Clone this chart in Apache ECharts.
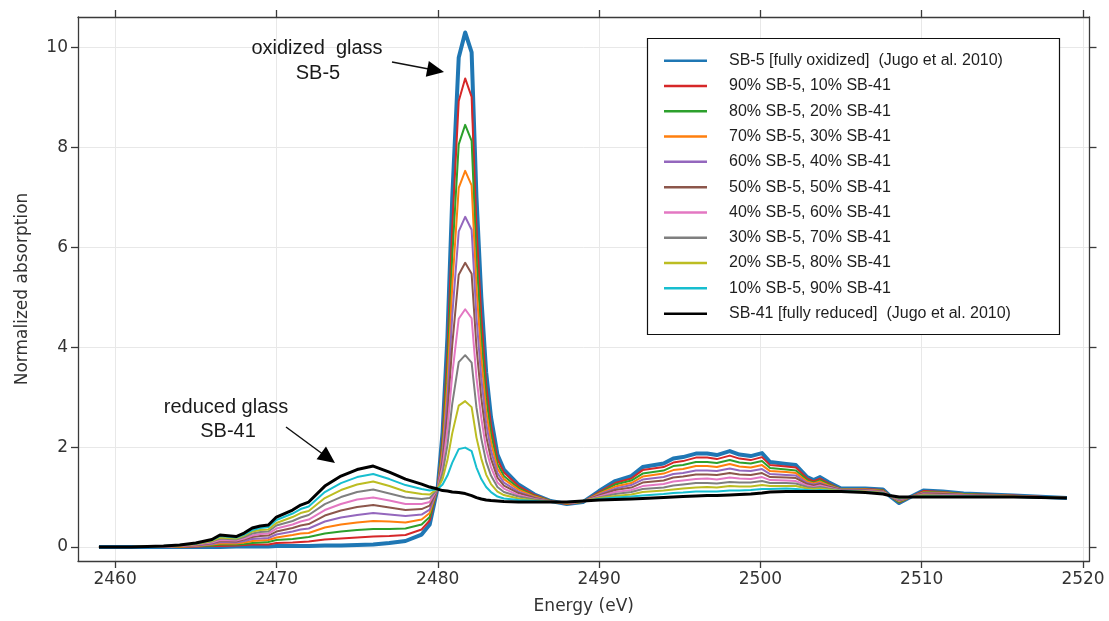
<!DOCTYPE html>
<html>
<head>
<meta charset="utf-8">
<script src="https://cdn.jsdelivr.net/npm/echarts@6/dist/echarts.min.js"></script>
<style>
  html, body { margin: 0; padding: 0; background: #ffffff; }
  #chart { width: 1109px; height: 621px; }
</style>
</head>
<body>
<div id="chart"></div>
<script>
// Photon energy (eV) shared by all spectra
const energy = [2459, 2461, 2463, 2464, 2465, 2466, 2466.5, 2467.5, 2468, 2468.5, 2469, 2469.5, 2470, 2471, 2471.5, 2472, 2473, 2474, 2475, 2476, 2477, 2478, 2479, 2479.5,
  2480, 2480.3, 2480.6, 2480.9, 2481.3, 2481.7, 2482.1, 2482.4, 2482.7, 2483, 2483.3, 2483.7, 2484.1,
  2485, 2486, 2487, 2488, 2489, 2490, 2491, 2492, 2492.7, 2494, 2494.6, 2495.2, 2496, 2496.7, 2497.3, 2498.1, 2498.7, 2499.4, 2500.1, 2500.6, 2501.6, 2502.2, 2502.9, 2503.3, 2503.7, 2504.2, 2505, 2506.5, 2507.6, 2508, 2508.6, 2509.3, 2510.1, 2511.3, 2512.6, 2515.7, 2519];

// Normalized absorption of each glass / mixture
const sb5 = [0, 0, 0, 0, 0, 0, 0, 0.01, 0.01, 0.01, 0.01, 0.01, 0.02, 0.02, 0.02, 0.02, 0.03, 0.03, 0.04, 0.05, 0.08, 0.12, 0.25, 0.45,
  1.2, 2.3, 4.2, 7.0, 9.8, 10.3, 9.9, 7.0, 5.0, 3.5, 2.6, 1.85, 1.55,
  1.25, 1.05, 0.92, 0.86, 0.9, 1.12, 1.32, 1.42, 1.6, 1.67, 1.77, 1.8, 1.87, 1.87, 1.84, 1.92, 1.85, 1.82, 1.88, 1.7, 1.66, 1.64, 1.4, 1.34, 1.4, 1.3, 1.17, 1.17, 1.15, 1.03, 0.88, 1.0, 1.13, 1.11, 1.07, 1.03, 0.98];

const mix90 = [0, 0, 0, 0, 0.01, 0.02, 0.02, 0.03, 0.04, 0.05, 0.05, 0.05, 0.08, 0.09, 0.1, 0.11, 0.15, 0.17, 0.19, 0.21, 0.22, 0.24, 0.35, 0.53,
  1.2, 2.18, 3.89, 6.41, 8.93, 9.38, 9.01, 6.4, 4.6, 3.24, 2.43, 1.76, 1.49,
  1.22, 1.04, 0.92, 0.86, 0.9, 1.1, 1.28, 1.37, 1.54, 1.6, 1.69, 1.72, 1.79, 1.79, 1.76, 1.83, 1.77, 1.74, 1.8, 1.64, 1.61, 1.59, 1.37, 1.32, 1.37, 1.28, 1.16, 1.16, 1.14, 1.03, 0.89, 1.0, 1.12, 1.1, 1.06, 1.03, 0.98];

const mix80 = [0, 0, 0, 0.01, 0.02, 0.03, 0.05, 0.05, 0.06, 0.08, 0.09, 0.1, 0.14, 0.16, 0.18, 0.2, 0.27, 0.31, 0.34, 0.36, 0.36, 0.37, 0.45, 0.6,
  1.19, 2.07, 3.58, 5.82, 8.06, 8.45, 8.13, 5.8, 4.19, 2.99, 2.27, 1.66, 1.42,
  1.18, 1.02, 0.92, 0.87, 0.9, 1.08, 1.25, 1.33, 1.47, 1.53, 1.62, 1.64, 1.7, 1.7, 1.68, 1.74, 1.69, 1.67, 1.72, 1.58, 1.55, 1.53, 1.34, 1.29, 1.34, 1.26, 1.16, 1.15, 1.13, 1.03, 0.9, 1.0, 1.1, 1.09, 1.06, 1.02, 0.98];

const mix70 = [0, 0, 0.01, 0.01, 0.02, 0.05, 0.07, 0.07, 0.09, 0.12, 0.13, 0.14, 0.19, 0.24, 0.27, 0.28, 0.39, 0.45, 0.49, 0.52, 0.51, 0.49, 0.55, 0.68,
  1.19, 1.95, 3.28, 5.23, 7.19, 7.53, 7.24, 5.2, 3.79, 2.73, 2.1, 1.57, 1.36,
  1.15, 1.01, 0.91, 0.87, 0.91, 1.07, 1.21, 1.28, 1.41, 1.47, 1.54, 1.56, 1.62, 1.62, 1.6, 1.66, 1.61, 1.59, 1.64, 1.52, 1.5, 1.48, 1.31, 1.27, 1.31, 1.24, 1.15, 1.15, 1.12, 1.03, 0.92, 1.0, 1.09, 1.08, 1.05, 1.02, 0.98];

const mix60 = [0, 0, 0.01, 0.02, 0.03, 0.06, 0.1, 0.09, 0.12, 0.16, 0.17, 0.18, 0.25, 0.31, 0.35, 0.37, 0.51, 0.59, 0.64, 0.68, 0.65, 0.62, 0.65, 0.75,
  1.18, 1.83, 2.97, 4.64, 6.32, 6.61, 6.35, 4.6, 3.38, 2.48, 1.93, 1.48, 1.29,
  1.11, 0.99, 0.91, 0.88, 0.91, 1.05, 1.17, 1.24, 1.35, 1.4, 1.46, 1.48, 1.53, 1.53, 1.52, 1.57, 1.53, 1.52, 1.56, 1.46, 1.44, 1.43, 1.28, 1.25, 1.28, 1.22, 1.15, 1.14, 1.11, 1.03, 0.93, 1.0, 1.08, 1.07, 1.04, 1.02, 0.98];

const mix50 = [0, 0, 0.01, 0.02, 0.04, 0.08, 0.12, 0.11, 0.15, 0.2, 0.22, 0.23, 0.31, 0.38, 0.43, 0.46, 0.63, 0.73, 0.8, 0.84, 0.79, 0.74, 0.76, 0.83,
  1.18, 1.72, 2.66, 4.05, 5.45, 5.69, 5.47, 4.0, 2.98, 2.22, 1.77, 1.39, 1.23,
  1.08, 0.98, 0.91, 0.88, 0.91, 1.03, 1.14, 1.19, 1.29, 1.33, 1.39, 1.41, 1.45, 1.45, 1.44, 1.48, 1.45, 1.44, 1.48, 1.4, 1.39, 1.38, 1.26, 1.23, 1.26, 1.21, 1.14, 1.13, 1.11, 1.03, 0.94, 1.0, 1.07, 1.06, 1.04, 1.02, 0.98];

const mix40 = [0, 0, 0.01, 0.02, 0.05, 0.09, 0.14, 0.13, 0.17, 0.23, 0.26, 0.27, 0.37, 0.45, 0.51, 0.55, 0.74, 0.86, 0.95, 0.99, 0.93, 0.86, 0.86, 0.9,
  1.18, 1.6, 2.35, 3.46, 4.57, 4.76, 4.58, 3.39, 2.58, 1.96, 1.6, 1.29, 1.17,
  1.04, 0.96, 0.91, 0.88, 0.91, 1.01, 1.1, 1.14, 1.22, 1.26, 1.31, 1.33, 1.36, 1.37, 1.35, 1.39, 1.37, 1.36, 1.4, 1.34, 1.33, 1.32, 1.23, 1.2, 1.23, 1.19, 1.13, 1.12, 1.1, 1.03, 0.95, 1.0, 1.05, 1.04, 1.03, 1.01, 0.98];

const mix30 = [0, 0, 0.01, 0.03, 0.06, 0.11, 0.17, 0.15, 0.2, 0.27, 0.3, 0.31, 0.43, 0.52, 0.59, 0.64, 0.86, 1.0, 1.1, 1.15, 1.07, 0.99, 0.96, 0.98,
  1.17, 1.48, 2.04, 2.87, 3.7, 3.84, 3.69, 2.79, 2.17, 1.71, 1.43, 1.2, 1.1,
  1.01, 0.95, 0.91, 0.89, 0.91, 0.99, 1.06, 1.1, 1.16, 1.19, 1.23, 1.25, 1.28, 1.28, 1.27, 1.3, 1.29, 1.29, 1.32, 1.28, 1.28, 1.27, 1.2, 1.18, 1.2, 1.17, 1.13, 1.11, 1.09, 1.03, 0.96, 1.0, 1.04, 1.03, 1.02, 1.01, 0.98];

const mix20 = [0, 0, 0.02, 0.03, 0.06, 0.12, 0.19, 0.17, 0.23, 0.31, 0.34, 0.35, 0.48, 0.6, 0.68, 0.72, 0.98, 1.14, 1.25, 1.31, 1.22, 1.11, 1.06, 1.05,
  1.17, 1.36, 1.74, 2.28, 2.83, 2.92, 2.8, 2.19, 1.77, 1.45, 1.26, 1.11, 1.04,
  0.97, 0.93, 0.9, 0.89, 0.92, 0.98, 1.02, 1.05, 1.1, 1.13, 1.15, 1.17, 1.19, 1.2, 1.19, 1.22, 1.21, 1.21, 1.24, 1.22, 1.22, 1.22, 1.17, 1.16, 1.17, 1.15, 1.12, 1.11, 1.08, 1.03, 0.98, 1.0, 1.03, 1.02, 1.01, 1.01, 0.98];

const mix10 = [0, 0, 0.02, 0.04, 0.07, 0.14, 0.22, 0.19, 0.25, 0.34, 0.38, 0.4, 0.54, 0.67, 0.76, 0.81, 1.1, 1.28, 1.4, 1.46, 1.36, 1.24, 1.16, 1.13,
  1.16, 1.25, 1.43, 1.69, 1.96, 1.99, 1.92, 1.59, 1.36, 1.2, 1.1, 1.01, 0.97,
  0.94, 0.92, 0.9, 0.9, 0.92, 0.96, 0.99, 1.01, 1.03, 1.06, 1.08, 1.09, 1.11, 1.11, 1.11, 1.13, 1.13, 1.14, 1.16, 1.16, 1.17, 1.16, 1.14, 1.13, 1.14, 1.13, 1.12, 1.1, 1.07, 1.03, 0.99, 1.0, 1.01, 1.01, 1.01, 1.0, 0.98];

const sb41 = [0, 0, 0.02, 0.04, 0.08, 0.15, 0.24, 0.21, 0.28, 0.38, 0.42, 0.44, 0.6, 0.74, 0.84, 0.9, 1.22, 1.42, 1.55, 1.62, 1.5, 1.36, 1.26, 1.2,
  1.16, 1.13, 1.12, 1.1, 1.09, 1.07, 1.03, 0.99, 0.96, 0.94, 0.93, 0.92, 0.91,
  0.9, 0.9, 0.9, 0.9, 0.92, 0.94, 0.95, 0.96, 0.97, 0.99, 1.0, 1.01, 1.02, 1.03, 1.03, 1.04, 1.05, 1.06, 1.08, 1.1, 1.11, 1.11, 1.11, 1.11, 1.11, 1.11, 1.11, 1.09, 1.06, 1.03, 1.0, 1.0, 1.0, 1.0, 1.0, 1.0, 0.98];

const seriesNames = [
  'SB-5 [fully oxidized]  (Jugo et al. 2010)',
  '90% SB-5, 10% SB-41',
  '80% SB-5, 20% SB-41',
  '70% SB-5, 30% SB-41',
  '60% SB-5, 40% SB-41',
  '50% SB-5, 50% SB-41',
  '40% SB-5, 60% SB-41',
  '30% SB-5, 70% SB-41',
  '20% SB-5, 80% SB-41',
  '10% SB-5, 90% SB-41',
  'SB-41 [fully reduced]  (Jugo et al. 2010)'
];
const seriesValues = [sb5, mix90, mix80, mix70, mix60, mix50, mix40, mix30, mix20, mix10, sb41];
const seriesColors = ['#1f77b4', '#d62728', '#2ca02c', '#ff7f0e', '#9467bd', '#8c564b',
  '#e377c2', '#7f7f7f', '#bcbd22', '#17becf', '#000000'];
const seriesWidths = [4, 2, 2, 2, 2, 2, 2, 2, 2, 2, 3];

const xTicks = [2460, 2470, 2480, 2490, 2500, 2510, 2520];
const yTicks = [0, 2, 4, 6, 8, 10];

const axisColor = '#3a3a3a';
const tickFont = 'DejaVu Sans';

const chart = echarts.init(document.getElementById('chart'), null, { renderer: 'canvas' });

const series = seriesValues.map((vals, i) => ({
  name: seriesNames[i],
  type: 'line',
  data: energy.map((e, j) => [e, vals[j]]),
  symbol: 'none',
  showSymbol: false,
  smooth: false,
  lineStyle: { color: seriesColors[i], width: seriesWidths[i], join: 'round' },
  itemStyle: { color: seriesColors[i] },
  emphasis: { disabled: true },
  animation: false,
  z: 2
}));

function frameAxis(extra) {
  return Object.assign({
    type: 'value',
    axisLine: { show: true, onZero: false, lineStyle: { color: axisColor, width: 1.3 } },
    axisTick: { show: true, length: 7, lineStyle: { color: axisColor, width: 1.3 } },
    splitLine: { show: false },
    axisLabel: { show: false }
  }, extra);
}

const plainNumber = v => String(v);

const option = {
  backgroundColor: '#ffffff',
  animation: false,
  grid: { left: 78, right: 19.5, top: 17, bottom: 60, containLabel: false },
  xAxis: [
    frameAxis({
      position: 'bottom',
      min: 2457.7, max: 2520.4,
      name: 'Energy (eV)',
      nameLocation: 'middle',
      nameGap: 37,
      nameTextStyle: { fontFamily: tickFont, fontSize: 17, color: '#333', verticalAlign: 'top' },
      axisTick: { show: true, length: 7, customValues: xTicks, lineStyle: { color: axisColor, width: 1.3 } },
      axisLabel: { show: true, customValues: xTicks, formatter: plainNumber, margin: 10, fontFamily: tickFont, fontSize: 17, color: '#333' },
      splitLine: { show: true, lineStyle: { color: '#e8e8e8', width: 1 } }
    }),
    frameAxis({
      position: 'top',
      min: 2457.7, max: 2520.4,
      axisTick: { show: true, length: 7, customValues: xTicks, lineStyle: { color: axisColor, width: 1.3 } }
    })
  ],
  yAxis: [
    frameAxis({
      position: 'left',
      min: -0.28, max: 10.61,
      name: 'Normalized absorption',
      nameLocation: 'middle',
      nameRotate: 90,
      nameGap: 47,
      nameTextStyle: { fontFamily: tickFont, fontSize: 17, color: '#333' },
      axisTick: { show: true, length: 7, customValues: yTicks, lineStyle: { color: axisColor, width: 1.3 } },
      axisLabel: { show: true, customValues: yTicks, formatter: plainNumber, margin: 10, fontFamily: tickFont, fontSize: 17, color: '#333' },
      splitLine: { show: true, lineStyle: { color: '#e8e8e8', width: 1 } }
    }),
    frameAxis({
      position: 'right',
      min: -0.28, max: 10.61,
      axisTick: { show: true, length: 7, customValues: yTicks, lineStyle: { color: axisColor, width: 1.3 } }
    })
  ],
  legend: {
    orient: 'vertical',
    left: 664,
    top: 48,
    padding: 0,
    itemGap: 0,
    itemWidth: 43,
    itemHeight: 2.5,
    icon: 'rect',
    selectedMode: false,
    data: seriesNames,
    textStyle: { fontFamily: 'Liberation Sans', fontSize: 16, lineHeight: 25.3, color: '#1e1e1e', padding: [0, 0, 0, 17] },
    z: 6
  },
  graphic: [
    // legend frame
    {
      type: 'rect', z: 5, silent: true,
      shape: { x: 647.5, y: 38.5, width: 412, height: 296 },
      style: { fill: '#ffffff', stroke: '#111111', lineWidth: 1.2 }
    },
    // oxidized glass label and arrow
    {
      type: 'text', z: 5, silent: true,
      style: { x: 317, y: 48, text: 'oxidized  glass', font: '20px "Liberation Sans"', fill: '#1a1a1a',
        align: 'center', verticalAlign: 'middle' }
    },
    {
      type: 'text', z: 5, silent: true,
      style: { x: 318, y: 73, text: 'SB-5', font: '20px "Liberation Sans"', fill: '#1a1a1a',
        align: 'center', verticalAlign: 'middle' }
    },
    {
      type: 'line', z: 5, silent: true,
      shape: { x1: 392, y1: 62, x2: 430, y2: 69.3 },
      style: { stroke: '#111', lineWidth: 1.5 }
    },
    {
      type: 'polygon', z: 5, silent: true,
      shape: { points: [[444, 72], [425.8, 76.7], [428.8, 60.9]] },
      style: { fill: '#000' }
    },
    // reduced glass label and arrow
    {
      type: 'text', z: 5, silent: true,
      style: { x: 226, y: 407, text: 'reduced glass', font: '20px "Liberation Sans"', fill: '#1a1a1a',
        align: 'center', verticalAlign: 'middle' }
    },
    {
      type: 'text', z: 5, silent: true,
      style: { x: 228, y: 431, text: 'SB-41', font: '20px "Liberation Sans"', fill: '#1a1a1a',
        align: 'center', verticalAlign: 'middle' }
    },
    {
      type: 'line', z: 5, silent: true,
      shape: { x1: 286, y1: 427, x2: 324, y2: 455 },
      style: { stroke: '#111', lineWidth: 1.5 }
    },
    {
      type: 'polygon', z: 5, silent: true,
      shape: { points: [[335, 463], [316.6, 459.3], [326, 446.5]] },
      style: { fill: '#000' }
    }
  ],
  series: series
};

chart.setOption(option);
</script>
</body>
</html>
